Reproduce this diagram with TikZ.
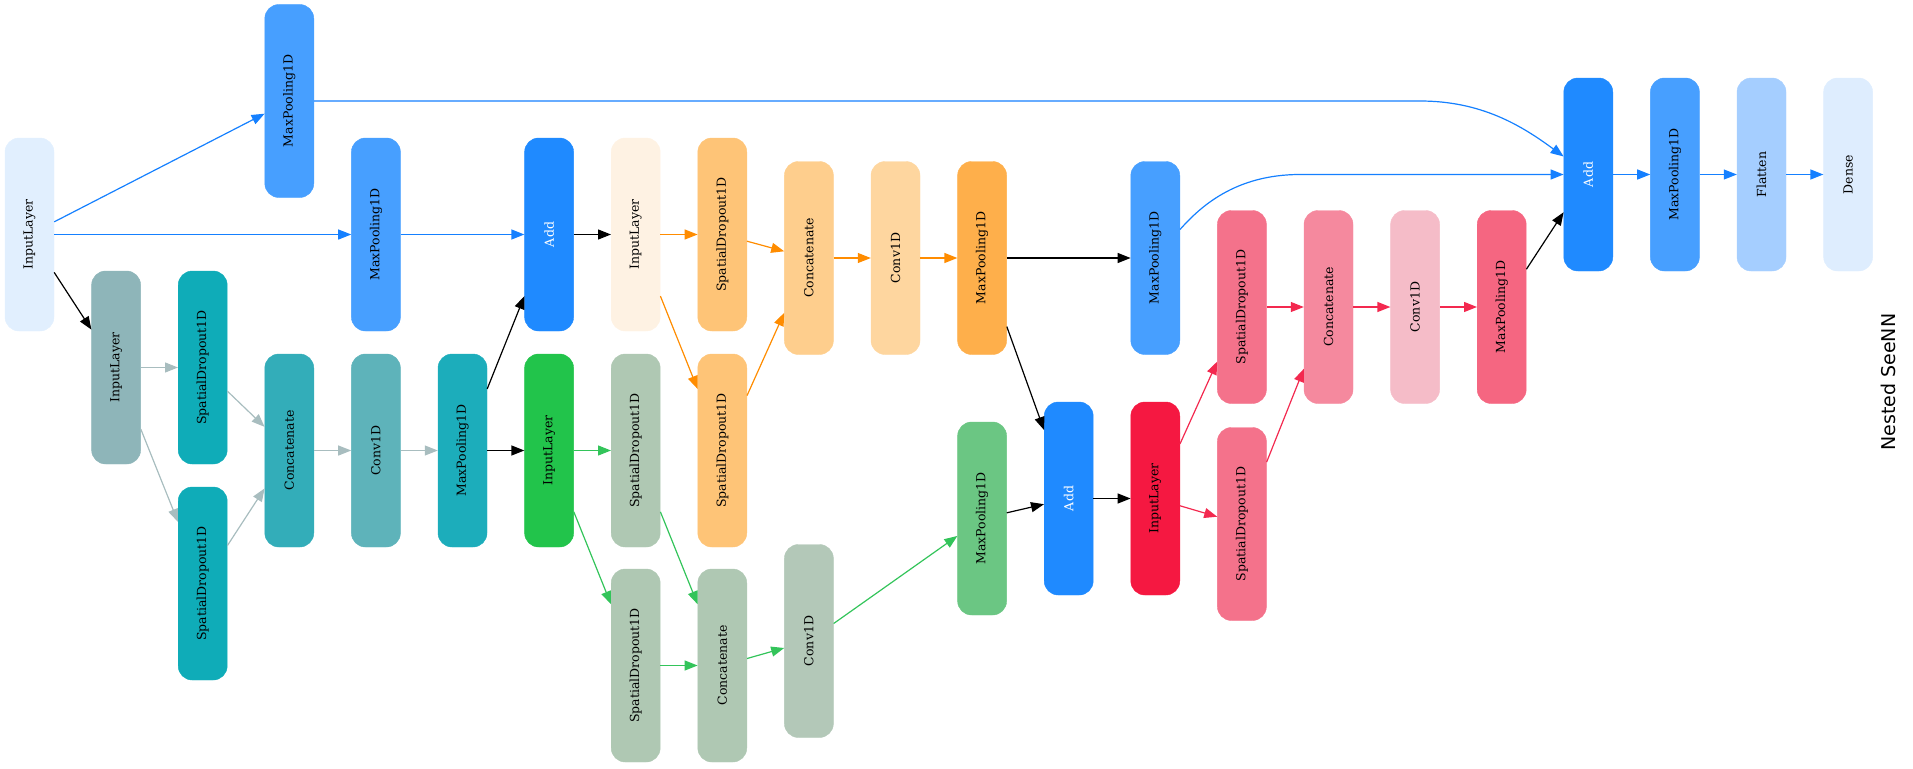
\documentclass[tikz,border=0pt]{standalone}
\usepackage{fontspec}
\usepackage{graphicx}
\usetikzlibrary{arrows.meta,calc}
\newfontfamily\lblfont{DejaVu Serif}
\newfontfamily\ttlfont{DejaVu Sans}
\newcommand\vlabel[1]{\rotatebox{90}{#1}}

% layer fills
\definecolor{cInA}{HTML}{E1EFFE}
\definecolor{cMpBlue}{HTML}{479FFF}
\definecolor{cAdd}{HTML}{1F8AFF}
\definecolor{cFlat}{HTML}{A5CEFF}
\definecolor{cDense}{HTML}{DEEDFE}
\definecolor{cInGray}{HTML}{8EB5B9}
\definecolor{cSdTeal}{HTML}{0FACB8}
\definecolor{cCcTeal}{HTML}{33ADB9}
\definecolor{cCvTeal}{HTML}{5EB3BA}
\definecolor{cMpTeal}{HTML}{1CADBB}
\definecolor{cInGreen}{HTML}{22C44B}
\definecolor{cSage}{HTML}{AFC8B3}
\definecolor{cCvSage}{HTML}{B3C8B8}
\definecolor{cMpGreen}{HTML}{6BC683}
\definecolor{cInCream}{HTML}{FEF2E3}
\definecolor{cSdOr}{HTML}{FEC477}
\definecolor{cCcOr}{HTML}{FECE8D}
\definecolor{cCvOr}{HTML}{FED69F}
\definecolor{cMpOr}{HTML}{FEAF4B}
\definecolor{cInRed}{HTML}{F51841}
\definecolor{cSdPink}{HTML}{F4728B}
\definecolor{cCcPink}{HTML}{F5899E}
\definecolor{cCvPink}{HTML}{F5BCC8}
\definecolor{cMpPink}{HTML}{F56681}
% connector colours
\definecolor{eBlue}{HTML}{1580FF}
\definecolor{eGray}{HTML}{A8BDBF}
\definecolor{eGreen}{HTML}{33C45A}
\definecolor{eOrange}{HTML}{FF8C00}
\definecolor{eRed}{HTML}{F3294F}

\tikzset{
  layer/.style={rectangle, rounded corners=14pt, minimum width=49pt,
    minimum height=193pt, inner sep=0pt, draw=#1, fill=#1, text=black,
    font=\lblfont\fontsize{12.5}{14}\selectfont},
  addlayer/.style={layer=cAdd, text=white},
  link/.style={line width=1.2pt, draw=#1, -{Triangle[length=13pt,width=10pt,fill=#1]}},
}

\begin{document}
\begin{tikzpicture}[x=1pt, y=-1pt]
\useasboundingbox (0,0) rectangle (1913,768);

% first block
\node[layer=cInA]     (in0)  at (29.5,234.5)   {\vlabel{InputLayer}};
\node[layer=cMpBlue]  (mpT)  at (289.3,101)    {\vlabel{MaxPooling1D}};
\node[layer=cInGray]  (in1)  at (116.1,367.5)  {\vlabel{InputLayer}};
\node[layer=cSdTeal]  (sd2a) at (202.7,367.5)  {\vlabel{SpatialDropout1D}};
\node[layer=cSdTeal]  (sd2b) at (202.7,583.5)  {\vlabel{SpatialDropout1D}};
\node[layer=cCcTeal]  (cc3)  at (289.3,450.5)  {\vlabel{Concatenate}};
\node[layer=cCvTeal]  (cv4)  at (375.9,450.5)  {\vlabel{Conv1D}};
\node[layer=cMpBlue]  (mp4)  at (375.9,234.5)  {\vlabel{MaxPooling1D}};
\node[layer=cMpTeal]  (mp5)  at (462.5,450.5)  {\vlabel{MaxPooling1D}};
\node[addlayer]       (add6) at (549.1,234.5)  {\vlabel{Add}};

% second block
\node[layer=cInGreen] (in6)  at (549.1,450.5)  {\vlabel{InputLayer}};
\node[layer=cSage]    (sd7a) at (635.7,450.5)  {\vlabel{SpatialDropout1D}};
\node[layer=cSage]    (sd7b) at (635.7,665.5)  {\vlabel{SpatialDropout1D}};
\node[layer=cSage]    (cc8)  at (722.3,665.5)  {\vlabel{Concatenate}};
\node[layer=cCvSage]  (cv9)  at (808.9,641)    {\vlabel{Conv1D}};
\node[layer=cMpGreen] (mp11b) at (982.1,518.5) {\vlabel{MaxPooling1D}};

% third block
\node[layer=cInCream] (in7)  at (635.7,234.5)  {\vlabel{InputLayer}};
\node[layer=cSdOr]    (sd8a) at (722.3,234.5)  {\vlabel{SpatialDropout1D}};
\node[layer=cSdOr]    (sd8b) at (722.3,450.5)  {\vlabel{SpatialDropout1D}};
\node[layer=cCcOr]    (cc9)  at (808.9,258)    {\vlabel{Concatenate}};
\node[layer=cCvOr]    (cv10) at (895.5,258)    {\vlabel{Conv1D}};
\node[layer=cMpOr]    (mp11a) at (982.1,258)   {\vlabel{MaxPooling1D}};
\node[addlayer]       (add12) at (1068.7,498.5) {\vlabel{Add}};
\node[layer=cMpBlue]  (mp13) at (1155.3,258)   {\vlabel{MaxPooling1D}};

% fourth block
\node[layer=cInRed]   (in13) at (1155.3,498.5) {\vlabel{InputLayer}};
\node[layer=cSdPink]  (sd14a) at (1241.9,307)  {\vlabel{SpatialDropout1D}};
\node[layer=cSdPink]  (sd14b) at (1241.9,524)  {\vlabel{SpatialDropout1D}};
\node[layer=cCcPink]  (cc15) at (1328.5,307)   {\vlabel{Concatenate}};
\node[layer=cCvPink]  (cv16) at (1415.1,307)   {\vlabel{Conv1D}};
\node[layer=cMpPink]  (mp17) at (1501.7,307)   {\vlabel{MaxPooling1D}};

% head
\node[addlayer]       (addF) at (1588.3,174.5) {\vlabel{Add}};
\node[layer=cMpBlue]  (mpF)  at (1674.9,174.5) {\vlabel{MaxPooling1D}};
\node[layer=cFlat]    (fl)   at (1761.5,174.5) {\vlabel{Flatten}};
\node[layer=cDense]   (dn)   at (1848.1,174.5) {\vlabel{Dense}};

\node[rotate=90, font=\ttlfont\fontsize{19}{22}\selectfont] (title) at (1888,382) {Nested SeeNN};

% connectors
\draw[link=eBlue] (in0) -- (mpT);
\draw[link=eBlue] (in0) -- (mp4);
\draw[link=black] (in0) -- (in1);
\draw[link=eBlue] (mp4) -- (add6);
\draw[link=black] (add6) -- (in7);

\draw[link=eGray] (in1) -- (sd2a);
\draw[link=eGray] (in1) -- (sd2b);
\draw[link=eGray] (sd2a) -- (cc3);
\draw[link=eGray] (sd2b) -- (cc3);
\draw[link=eGray] (cc3) -- (cv4);
\draw[link=eGray] (cv4) -- (mp5);
\draw[link=black] (mp5) -- (add6);
\draw[link=black] (mp5) -- (in6);

\draw[link=eGreen] (in6) -- (sd7a);
\draw[link=eGreen] (in6) -- (sd7b);
\draw[link=eGreen] (sd7a) -- (cc8);
\draw[link=eGreen] (sd7b) -- (cc8);
\draw[link=eGreen] (cc8) -- (cv9);
\draw[link=eGreen] (cv9) -- (mp11b);
\draw[link=black] (mp11b) -- (add12);

\draw[link=eOrange] (in7) -- (sd8a);
\draw[link=eOrange] (in7) -- (sd8b);
\draw[link=eOrange] (sd8a) -- (cc9);
\draw[link=eOrange] (sd8b) -- (cc9);
\draw[link=eOrange] (cc9) -- (cv10);
\draw[link=eOrange] (cv10) -- (mp11a);
\draw[link=black] (mp11a) -- (mp13);
\draw[link=black] (mp11a) -- (add12);
\draw[link=black] (add12) -- (in13);

\draw[link=eRed] (in13) -- (sd14a);
\draw[link=eRed] (in13) -- (sd14b);
\draw[link=eRed] (sd14a) -- (cc15);
\draw[link=eRed] (sd14b) -- (cc15);
\draw[link=eRed] (cc15) -- (cv16);
\draw[link=eRed] (cv16) -- (mp17);
\draw[link=black] (mp17) -- (addF);

% long skip links into the final Add
\draw[link=eBlue] (mpT.east) -- (1420,101) .. controls (1482,101) and (1522,126) .. ([yshift=18pt]addF.west);
\draw[link=eBlue] ([yshift=28.5pt]mp13.east) .. controls (1200,207) and (1235,174.5) .. (1300,174.5) -- (addF.west);

\draw[link=eBlue] (addF) -- (mpF);
\draw[link=eBlue] (mpF) -- (fl);
\draw[link=eBlue] (fl) -- (dn);
\end{tikzpicture}
\end{document}
